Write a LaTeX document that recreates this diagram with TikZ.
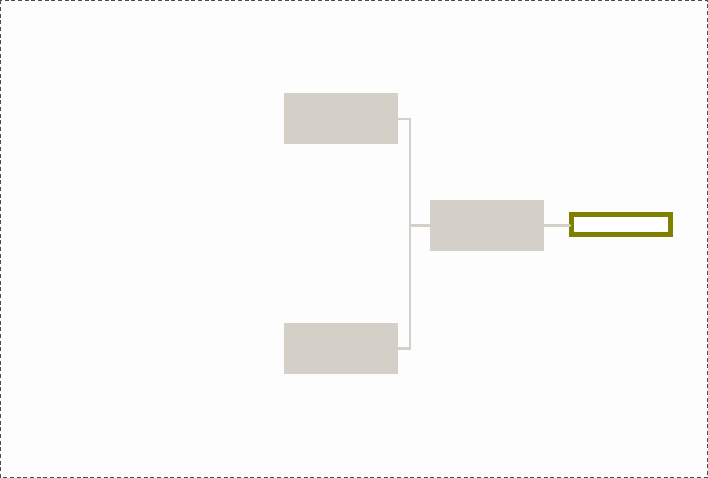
\documentclass[tikz,border=0pt]{standalone}
\usetikzlibrary{arrows.meta}
\definecolor{boxgray}{HTML}{D4D0C8}
\definecolor{olivebox}{HTML}{808000}
\definecolor{bggray}{HTML}{FDFDFD}
\begin{document}
\begin{tikzpicture}[x=0.75pt,y=-0.75pt,
  box/.style={fill=boxgray,draw=none,minimum width=114*0.75pt,minimum height=51*0.75pt,inner sep=0pt,outer sep=0pt},
  conn/.style={draw=boxgray,line width=2.6*0.75pt},
  outbox/.style={draw=olivebox,fill=white,line width=5*0.75pt,minimum width=99*0.75pt,minimum height=20*0.75pt,inner sep=0pt,outer sep=0pt}]
\fill[bggray] (0,0) rectangle (708,478);
\useasboundingbox (0,0) rectangle (708,478);
\draw[gray!60!black,dashed,dash pattern=on 3pt off 2pt,line width=0.75pt] (0.5,0.5) rectangle (707.5,477.5);
\node[box] (top) at (341,119) {};
\node[box] (bot) at (341,348.5) {};
\node[box] (mid) at (487,225.5) {};
\node[outbox] (out) at (621,224.5) {};
\coordinate (j) at (410,225.5);
\draw[conn] (top.east) -| (j) |- (bot.east);
\draw[conn] (j) -- (mid.west);
\draw[conn,-{Latex[length=2pt,width=3pt]}] (mid.east) -- (mid.east -| out.west);
\end{tikzpicture}
\end{document}
